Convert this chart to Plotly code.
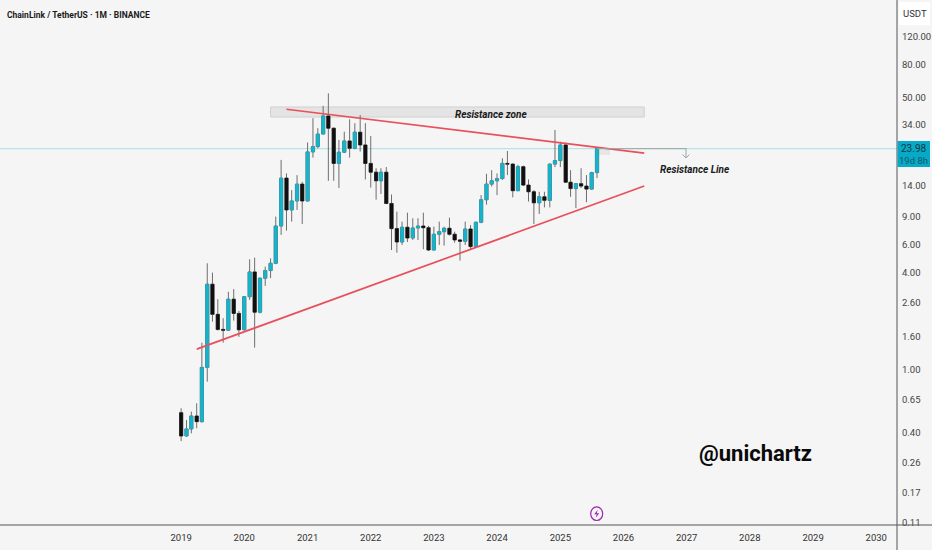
import plotly.graph_objects as go
import pandas as pd
import numpy as np

months = pd.date_range("2019-01-01", periods=80, freq="MS")
opens = [0.537, 0.384, 0.425, 0.512, 0.472, 1.03, 3.41, 2.21, 1.78, 1.76,
         2.75, 2.24, 1.77, 2.85, 4.07, 2.28, 3.72, 4.15, 4.61, 7.88,
         15.7, 9.93, 11.3, 14.4, 11.3, 22.9, 24.7, 29.6, 38.4, 32.2,
         19.4, 22.8, 26.8, 24.1, 30.4, 25.3, 19.4, 17.1, 15.1, 17.1,
         10.9, 7.59, 6.26, 7.74, 6.63, 7.66, 7.88, 7.69, 5.58, 7.0,
         7.26, 7.63, 7.0, 6.45, 6.33, 7.55, 5.86, 8.32, 11.5, 14.4,
         15.1, 15.6, 19.4, 19.2, 13.1, 18.5, 14.2, 12.9, 11.0, 12.0,
         11.4, 19.2, 20.2, 25.3, 14.8, 13.5, 14.5, 14.0, 13.4, 17.0]
highs = [0.572, 0.483, 0.545, 0.615, 1.47, 4.61, 4.03, 2.75, 2.09, 3.06,
         3.18, 2.32, 2.88, 4.88, 5.0, 3.75, 4.39, 4.95, 9.02, 20.4,
         16.8, 13.2, 16.4, 14.9, 26.2, 37.2, 32.2, 44.4, 53.2, 32.4,
         27.2, 30.6, 36.6, 34.6, 38.9, 34.6, 28.8, 18.1, 18.1, 18.4,
         12.4, 9.69, 8.39, 9.55, 8.81, 8.81, 9.55, 7.9, 7.81, 8.39,
         7.81, 8.89, 7.26, 6.54, 8.39, 8.0, 8.4, 12.3, 16.7, 17.6,
         16.8, 20.9, 23.2, 19.4, 19.0, 18.8, 15.4, 13.2, 12.9, 12.9,
         19.4, 31.4, 26.5, 26.2, 17.6, 14.6, 18.1, 16.4, 17.2, 24.3]
lows = [0.357, 0.380, 0.399, 0.429, 0.465, 0.839, 1.99, 1.75, 1.47, 1.74,
        2.02, 1.60, 1.75, 2.72, 1.37, 2.24, 3.33, 3.72, 4.55, 6.93,
        7.37, 8.39, 9.93, 8.12, 11.2, 21.1, 24.1, 29.4, 15.1, 15.1,
        13.6, 22.5, 21.1, 23.8, 23.0, 15.4, 13.7, 11.5, 12.5, 10.8,
        5.58, 5.37, 6.0, 6.26, 6.45, 6.45, 5.64, 5.5, 5.53, 6.0,
        5.94, 6.86, 6.2, 4.79, 6.0, 5.58, 5.75, 8.2, 10.7, 13.9,
        12.3, 15.3, 16.4, 11.9, 13.0, 14.0, 11.2, 8.12, 9.37, 10.3,
        10.3, 18.4, 18.4, 14.7, 12.0, 10.2, 13.6, 11.1, 13.3, 15.7]
closes = [0.384, 0.425, 0.512, 0.472, 1.03, 3.41, 2.21, 1.78, 1.76, 2.75,
          2.24, 1.77, 2.85, 4.07, 2.28, 3.72, 4.15, 4.61, 7.88, 15.7,
          9.93, 11.3, 14.4, 11.3, 22.9, 24.7, 29.6, 38.4, 32.2, 19.4,
          22.8, 26.8, 24.1, 30.4, 25.3, 19.4, 17.1, 15.1, 17.1, 10.9,
          7.59, 6.26, 7.74, 6.63, 7.66, 7.88, 7.69, 5.58, 7.0, 7.26,
          7.63, 7.0, 6.45, 6.33, 7.55, 5.86, 8.32, 11.5, 14.4, 15.1,
          15.6, 19.4, 19.2, 13.1, 18.5, 14.2, 12.9, 11.0, 12.0, 11.4,
          19.2, 20.2, 25.3, 14.8, 13.5, 14.5, 14.0, 13.4, 17.0, 23.98]

price_ticks = [120, 80, 50, 34, 14, 9, 6, 4, 2.6, 1.6, 1, 0.65, 0.4, 0.26, 0.17, 0.11]
year_ticks = ["2019", "2020", "2021", "2022", "2023", "2024", "2025", "2026", "2027", "2028", "2029", "2030"]

upper_dates = ["2020-09-01", "2026-05-01"]
upper_prices = [42.3, 22.5]
lower_dates = ["2019-04-01", "2026-05-01"]
lower_prices = [1.34, 14.0]
last_price = 23.98

CYAN = "#14B4CC"
BLACK = "#101010"
RED = "#E8505B"
GREY = "#6E6E6E"
ARROW = "#9AA5A5"
PURPLE = "#9C27B0"
BG = "#F5F5F5"
PLOT_W = 897
PLOT_H = 525


def px(v):
    return v / PLOT_W


def py(v):
    return (PLOT_H - v) / PLOT_H


body_top = np.maximum(opens, closes)
body_bot = np.minimum(opens, closes)

fig = go.Figure()
# wicks first, gray, bodies drawn over them
fig.add_trace(go.Candlestick(x=months, open=opens, high=highs, low=lows, close=closes,
                             whiskerwidth=0,
                             increasing=dict(line=dict(color=GREY, width=1), fillcolor=GREY),
                             decreasing=dict(line=dict(color=GREY, width=1), fillcolor=GREY)))
fig.add_trace(go.Candlestick(x=months, open=opens, high=body_top, low=body_bot, close=closes,
                             whiskerwidth=0,
                             increasing=dict(line=dict(color=CYAN, width=0.4), fillcolor=CYAN),
                             decreasing=dict(line=dict(color=BLACK, width=0.4), fillcolor=BLACK)))

fig.add_trace(go.Scatter(x=upper_dates, y=upper_prices, mode="lines", line=dict(color=RED, width=1.7)))
fig.add_trace(go.Scatter(x=lower_dates, y=lower_prices, mode="lines", line=dict(color=RED, width=1.7)))

# forecast line out to the arrow
fig.add_trace(go.Scatter(x=["2025-08-01", "2027-01-01"], y=[last_price, last_price], mode="lines",
                         line=dict(color=ARROW, width=1)))

fig.update_layout(
    width=932, height=550, autosize=False,
    margin=dict(l=0, r=35, t=0, b=25),
    paper_bgcolor=BG, plot_bgcolor=BG,
    showlegend=False, boxgap=0.05,
    font=dict(family="Roboto", color="#2A2E39"),
)
fig.update_xaxes(type="date", range=["2016-02-19", "2030-05-01"], rangeslider_visible=False,
                 showgrid=False, zeroline=False, showline=False,
                 tickmode="array", tickvals=[y + "-01-01" for y in year_ticks], ticktext=year_ticks,
                 ticks="", ticklabelstandoff=5, tickfont=dict(size=9.5, family="Roboto", color="#333333"))
fig.update_yaxes(type="log", side="right", range=[-0.972, 2.309],
                 showgrid=False, zeroline=False, showline=False,
                 tickmode="array", tickvals=price_ticks, ticktext=["%.2f" % p for p in price_ticks],
                 ticks="", ticklabelstandoff=4, tickfont=dict(size=9.5, family="Roboto", color="#444444"))

shapes = [
    # resistance zone
    dict(type="rect", xref="x", yref="y", x0="2020-06-01", x1="2026-05-01", y0=37.8, y1=43.7,
         fillcolor="#E4E4E4", line=dict(color="#D0D0D0", width=1), layer="below"),
    # last price line
    dict(type="line", xref="paper", yref="y", x0=0, x1=1, y0=last_price, y1=last_price,
         line=dict(color="#A9DEE6", width=1), layer="below"),
    # forecast shadow
    dict(type="rect", xref="x", yref="y", x0="2025-08-01", x1="2025-10-15", y0=21.9, y1=last_price,
         fillcolor="#E6E6E6", line=dict(width=0), layer="below"),
    # axis frame
    dict(type="line", xref="paper", yref="paper", x0=1, x1=1, y0=py(550), y1=1,
         line=dict(color="#555555", width=1)),
    dict(type="line", xref="paper", yref="paper", x0=0, x1=px(932), y0=0, y1=0,
         line=dict(color="#555555", width=1)),
    # USDT box
    dict(type="rect", xref="paper", yref="paper", x0=px(899), x1=px(930), y0=py(25), y1=py(2),
         fillcolor="#FFFFFF", line=dict(width=0)),
    # price label box
    dict(type="rect", xref="paper", yref="paper", x0=px(897.5), x1=px(930), y0=py(167), y1=py(141),
         fillcolor="#08A9C6", line=dict(width=0)),
    # lightning mark
    dict(type="circle", xref="paper", yref="paper", x0=px(590.7), x1=px(602.7), y0=py(520.5), y1=py(506.9),
         line=dict(color=PURPLE, width=1.2)),
    dict(type="path", xref="paper", yref="paper",
         path="M %f,%f L %f,%f L %f,%f L %f,%f L %f,%f L %f,%f Z" % (
             px(597.7), py(509.7), px(594.2), py(514.2), px(596.7), py(514.2),
             px(595.7), py(517.7), px(599.2), py(513.2), px(596.7), py(513.2)),
         fillcolor=PURPLE, line=dict(width=0)),
    # forecast arrow, open head
    dict(type="path", xref="paper", yref="paper",
         path="M %f,%f L %f,%f M %f,%f L %f,%f L %f,%f" % (
             px(686), py(149), px(686), py(158), px(682.5), py(154.5), px(686), py(158), px(689.5), py(154.5)),
         line=dict(color=ARROW, width=1)),
]
fig.update_layout(shapes=shapes)

annotations = [
    dict(text="<b>ChainLink / TetherUS · 1M · BINANCE</b>", xref="paper", yref="paper",
         x=px(5), y=py(15), xanchor="left", yanchor="middle", showarrow=False,
         font=dict(size=8.5, family="Roboto", color="#1A1A1A")),
    dict(text="USDT", xref="paper", yref="paper", x=px(915), y=py(14),
         xanchor="center", yanchor="middle", showarrow=False,
         font=dict(size=9.5, family="Roboto", color="#333333")),
    dict(text="23.98", xref="paper", yref="paper", x=px(914), y=py(148),
         xanchor="center", yanchor="middle", showarrow=False,
         font=dict(size=10, family="Roboto", color="#0B3A44")),
    dict(text="19d 8h", xref="paper", yref="paper", x=px(914), y=py(160),
         xanchor="center", yanchor="middle", showarrow=False,
         font=dict(size=9.5, family="Roboto", color="#0B5A68")),
    dict(text="<b><i>Resistance zone</i></b>", x=px(490.5), y=py(114), xref="paper", yref="paper",
         xanchor="center", yanchor="middle",
         showarrow=False, font=dict(size=10, family="Roboto", color="#1A1A1A")),
    dict(text="<b><i>Resistance Line</i></b>", x=px(695), y=py(170), xref="paper", yref="paper",
         xanchor="center", yanchor="middle",
         showarrow=False, font=dict(size=10, family="Roboto", color="#1A1A1A")),
    dict(text="<b>@unichartz</b>", xref="paper", yref="paper", x=px(755), y=py(453),
         xanchor="center", yanchor="middle", showarrow=False,
         font=dict(size=22, family="Roboto", color="#0A0A0A")),
]
fig.update_layout(annotations=annotations)

# plotly's page keeps the default body margin, which shifts everything
fig.write_html("out.html", config=dict(displayModeBar=False),
               post_script="document.body.style.margin='0';document.body.style.overflow='hidden';")
